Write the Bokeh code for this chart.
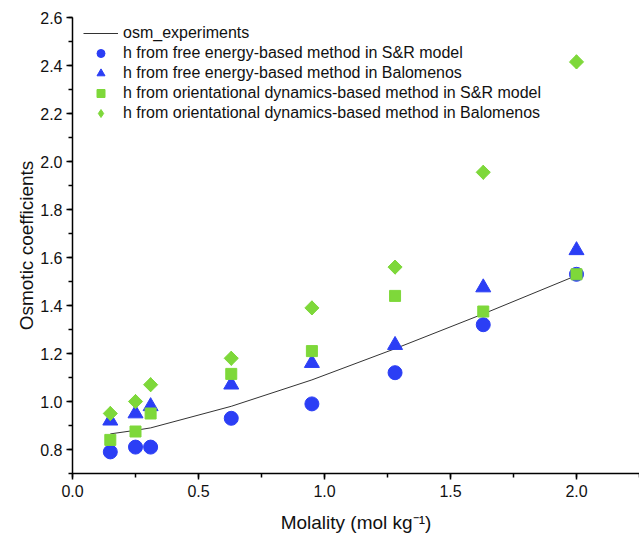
import math
from bokeh.plotting import figure
from bokeh.models import SingleIntervalTicker, NumeralTickFormatter, Range1d, Legend, LegendItem
from bokeh.embed import file_html
from bokeh.resources import INLINE

molality = [0.15, 0.25, 0.31, 0.63, 0.95, 1.28, 1.63, 2.0]
osm_experiments = [0.865, 0.88, 0.89, 0.98, 1.09, 1.22, 1.365, 1.525]
free_energy_sr = [0.79, 0.81, 0.81, 0.93, 0.99, 1.12, 1.32, 1.53]
free_energy_bal = [0.92, 0.95, 0.98, 1.07, 1.16, 1.235, 1.475, 1.63]
orient_sr = [0.84, 0.875, 0.95, 1.115, 1.21, 1.44, 1.375, 1.53]
orient_bal = [0.95, 1.00, 1.07, 1.18, 1.39, 1.56, 1.955, 2.415]

labels = [
    "osm_experiments",
    "h from free energy-based method in S&R model",
    "h from free energy-based method in Balomenos",
    "h from orientational dynamics-based method in S&R model",
    "h from orientational dynamics-based method in Balomenos",
]

BLUE = "#2b3ef5"
GREEN = "#7ed83a"
FONT = "Liberation Sans"

p = figure(width=639, height=539, output_backend="svg", toolbar_location=None,
           x_range=Range1d(0, 2.25), y_range=Range1d(0.7, 2.6),
           min_border_left=72, min_border_right=0, min_border_top=17, min_border_bottom=66)
p.outline_line_color = None
p.xgrid.visible = False
p.ygrid.visible = False

r_line = p.line(molality, osm_experiments, line_color="#333333", line_width=1)
r_c = p.scatter(molality, free_energy_sr, marker="circle", size=14, fill_color=BLUE, line_color=BLUE)
r_t = p.scatter(molality, free_energy_bal, marker="triangle", size=15, fill_color=BLUE, line_color=BLUE)
r_s = p.scatter(molality, orient_sr, marker="square", size=11, fill_color=GREEN, line_color=GREEN)
# diamond marker (used for the legend glyph), covered by the rotated square below
r_d_leg = p.scatter(molality, orient_bal, marker="diamond", size=14, fill_color=GREEN, line_color=GREEN)
r_d = p.scatter(molality, orient_bal, marker="square", size=10, angle=math.pi / 4,
                fill_color=GREEN, line_color=GREEN)

legend = Legend(items=[LegendItem(label=l, renderers=[r]) for l, r in
                       zip(labels, [r_line, r_c, r_t, r_s, r_d_leg])],
                location=(11, 350))
legend.border_line_color = None
legend.background_fill_alpha = 0
legend.padding = 0
legend.margin = 0
legend.spacing = 0
legend.label_height = 20
legend.glyph_height = 20
legend.glyph_width = 35
legend.label_standoff = 5
legend.label_text_font = FONT
legend.label_text_font_size = "16px"
legend.label_text_color = "#111111"
p.add_layout(legend)

p.xaxis.ticker = SingleIntervalTicker(interval=0.5, num_minor_ticks=2)
p.yaxis.ticker = SingleIntervalTicker(interval=0.2, num_minor_ticks=2)
p.xaxis.formatter = NumeralTickFormatter(format="0.0")
p.yaxis.formatter = NumeralTickFormatter(format="0.0")

for ax in (p.xaxis, p.yaxis):
    ax.axis_line_color = "black"
    ax.axis_line_width = 1.5
    ax.major_tick_line_color = "black"
    ax.minor_tick_line_color = "black"
    ax.major_tick_line_width = 1.5
    ax.minor_tick_line_width = 1.5
    ax.major_tick_in = 0
    ax.major_tick_out = 6
    ax.minor_tick_in = 0
    ax.minor_tick_out = 4
    ax.major_label_text_font = FONT
    ax.major_label_text_font_size = "16px"
    ax.major_label_text_color = "#111111"
    ax.axis_label_text_font = FONT
    ax.axis_label_text_font_size = "19px"
    ax.axis_label_text_font_style = "normal"
    ax.axis_label_text_color = "#111111"

p.xaxis.axis_label = "Molality (mol kg\u207b\u00b9)"
p.yaxis.axis_label = "Osmotic coefficients"
p.xaxis.major_label_standoff = 5
p.yaxis.major_label_standoff = 4
p.xaxis.axis_label_standoff = 12
p.yaxis.axis_label_standoff = 0

open("out.html", "w").write(file_html(p, INLINE))
